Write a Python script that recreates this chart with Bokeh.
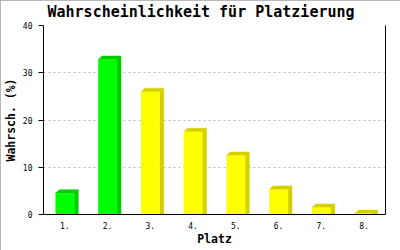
from bokeh.plotting import figure
from bokeh.models import Range1d, FixedTicker, LinearAxis, Title
from bokeh.embed import file_html
from bokeh.resources import INLINE

# data
places = [1, 2, 3, 4, 5, 6, 7, 8]
place_labels = ["1.", "2.", "3.", "4.", "5.", "6.", "7.", "8."]
probabilities = [4.5, 32.8, 26.0, 17.5, 12.5, 5.3, 1.5, 0.2]
front_colors = ["#00FF00", "#00FF00", "#FFFF00", "#FFFF00", "#FFFF00", "#FFFF00", "#FFFF00", "#FFFF00"]
side_colors = ["#00CC00", "#00CC00", "#D4D000", "#D4D000", "#D4D000", "#D4D000", "#D4D000", "#D4D000"]
y_ticks = [0, 10, 20, 30, 40]

FRAME_W, FRAME_H = 342, 189
X0, X1 = 0.5, 8.5
Y0, Y1 = 0, 40
px_x = FRAME_W / (X1 - X0)
px_y = FRAME_H / (Y1 - Y0)
DX = 4 / px_x       # depth offset (4 px right)
DY = 3.5 / px_y     # depth offset (3.5 px up)
BAR_W = 0.44

FONT = "DejaVu Sans Mono"

p = figure(width=400, height=250, output_backend="svg", toolbar_location=None,
           x_range=Range1d(X0, X1), y_range=Range1d(Y0, Y1),
           min_border_left=43, min_border_right=15, min_border_top=25, min_border_bottom=36)
p.outline_line_color = None
p.background_fill_color = "white"
p.border_fill_color = "white"
p.styles = {"outline": "1px solid #A0A0A0", "outline-offset": "-1px"}

spacer = Title(text=" ", text_font_size="3px", standoff=0)
p.add_layout(spacer, "above")
t = Title(text="Wahrscheinlichkeit für Platzierung", align="left", offset=4,
          text_font=FONT, text_font_size="15px", text_font_style="bold",
          text_color="black", standoff=0)
p.add_layout(t, "above")

# grid
p.xgrid.grid_line_color = None
p.ygrid.grid_line_color = "#BBBBBB"
p.ygrid.grid_line_dash = "2 3"
p.ygrid.ticker = FixedTicker(ticks=y_ticks)

# bars (3D look)
lefts = [x - BAR_W / 2 for x in places]
rights = [x + BAR_W / 2 for x in places]
top_xs = [[l, l + DX, r + DX, r] for l, r in zip(lefts, rights)]
top_ys = [[v, v + DY, v + DY, v] for v in probabilities]
side_xs = [[r, r, r + DX, r + DX] for r in rights]
side_ys = [[0, v, v + DY, 0] for v in probabilities]
p.patches(side_xs, side_ys, fill_color=side_colors, line_color=side_colors, line_width=0.5)
p.patches(top_xs, top_ys, fill_color=side_colors, line_color=side_colors, line_width=0.5)
p.quad(left=lefts, right=rights, bottom=0, top=probabilities,
       fill_color=front_colors, line_color=None)

# axes
xa = p.xaxis[0]
xa.ticker = FixedTicker(ticks=places)
xa.major_label_overrides = {x: l for x, l in zip(places, place_labels)}
xa.major_tick_line_color = None
xa.minor_tick_line_color = None
xa.axis_line_color = "black"
xa.major_label_text_font = FONT
xa.major_label_text_font_size = "8px"
xa.major_label_text_color = "black"
xa.major_label_standoff = 1
xa.axis_label = "Platz"
xa.axis_label_text_font = FONT
xa.axis_label_text_font_size = "11.5px"
xa.axis_label_text_font_style = "bold"
xa.axis_label_text_color = "black"
xa.axis_label_standoff = 0

ya = p.yaxis[0]
ya.ticker = FixedTicker(ticks=y_ticks)
ya.major_tick_in = 0
ya.major_tick_out = 5
ya.minor_tick_line_color = None
ya.axis_line_color = "black"
ya.major_label_text_font = FONT
ya.major_label_text_font_size = "8px"
ya.major_label_text_color = "black"
ya.major_label_standoff = 6
ya.axis_label = "Wahrsch. (%)"
ya.axis_label_text_font = FONT
ya.axis_label_text_font_size = "11.5px"
ya.axis_label_text_font_style = "bold"
ya.axis_label_text_color = "black"
ya.axis_label_standoff = 2

ra = LinearAxis(ticker=FixedTicker(ticks=[]), major_tick_line_color=None,
                minor_tick_line_color=None, major_label_text_font_size="0px",
                axis_line_color="black")
p.add_layout(ra, "right")

open("out.html", "w").write(file_html(p, INLINE))
